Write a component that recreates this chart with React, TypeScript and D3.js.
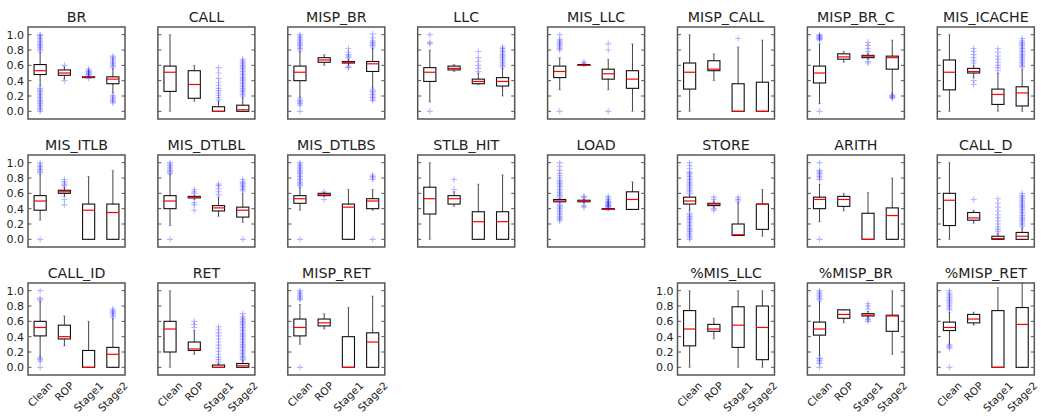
import React from "react";
import * as d3 from "d3";

type Stat = [number, number, number, number, number]; // lo, q1, med, q3, hi

const categories = ["Clean", "ROP", "Stage1", "Stage2"];
const yTicks = [0, 0.2, 0.4, 0.6, 0.8, 1.0];

// ---------- Row 1 ----------
const statsBR: Stat[] = [[0.33, 0.48, 0.53, 0.61, 0.77], [0.42, 0.47, 0.5, 0.54, 0.58], [0.44, 0.44, 0.445, 0.45, 0.46], [0.24, 0.36, 0.42, 0.45, 0.56]];
const fliersBR: number[][] = [
  [0.79, 0.81, 0.83, 0.85, 0.87, 0.89, 0.91, 0.93, 0.95, 0.97, 0.99, 1.0, 0.0, 0.02, 0.04, 0.06, 0.08, 0.1, 0.12, 0.14, 0.16, 0.18, 0.2, 0.22, 0.24, 0.26, 0.28, 0.3],
  [0.4, 0.6],
  [0.47, 0.48, 0.49, 0.5, 0.51, 0.52, 0.53, 0.55, 0.43],
  [0.58, 0.6, 0.62, 0.64, 0.66, 0.68, 0.7, 0.72, 0.11, 0.13, 0.15, 0.17, 0.19, 0.21],
];
const statsCALL: Stat[] = [[0, 0.26, 0.51, 0.59, 1.0], [0.13, 0.17, 0.35, 0.53, 0.6], [0, 0, 0, 0.06, 0.13], [0, 0, 0.02, 0.08, 0.18]];
const fliersCALL: number[][] = [
  [], [],
  [0.15, 0.18, 0.21, 0.24, 0.27, 0.3, 0.34, 0.38, 0.43, 0.5, 0.57],
  [0.2, 0.22, 0.24, 0.26, 0.28, 0.3, 0.32, 0.34, 0.36, 0.38, 0.4, 0.42, 0.44, 0.46, 0.48, 0.5, 0.52, 0.54, 0.56, 0.58, 0.6, 0.62, 0.64, 0.66, 0.68],
];
const statsMISP_BR: Stat[] = [[0.18, 0.4, 0.51, 0.59, 0.78], [0.6, 0.64, 0.67, 0.7, 0.74], [0.6, 0.63, 0.64, 0.65, 0.68], [0.3, 0.52, 0.62, 0.65, 0.82]];
const fliersMISP_BR: number[][] = [
  [0.8, 0.82, 0.84, 0.86, 0.88, 0.9, 0.92, 0.94, 0.96, 0.98, 1.0, 0.08, 0.1, 0.12, 0.14, 0.16, 0.0],
  [],
  [0.57, 0.58, 0.7, 0.72, 0.74, 0.77, 0.82],
  [0.84, 0.86, 0.88, 0.9, 0.92, 0.96, 1.01, 0.14, 0.16, 0.18, 0.2, 0.22, 0.24, 0.26, 0.28],
];
const statsLLC: Stat[] = [[0.12, 0.39, 0.51, 0.57, 0.8], [0.52, 0.54, 0.56, 0.59, 0.61], [0.35, 0.36, 0.39, 0.42, 0.5], [0.2, 0.33, 0.39, 0.44, 0.56]];
const fliersLLC: number[][] = [
  [0.88, 0.9, 1.0, 0.0],
  [],
  [0.52, 0.56, 0.6, 0.65, 0.7, 0.78],
  [0.58, 0.6, 0.62, 0.64, 0.66, 0.68, 0.7, 0.72, 0.74, 0.76, 0.78, 0.8, 0.82, 0.84],
];
const statsMIS_LLC: Stat[] = [[0.28, 0.44, 0.52, 0.59, 0.7], [0.59, 0.6, 0.6, 0.61, 0.62], [0.28, 0.42, 0.49, 0.55, 0.68], [0, 0.3, 0.42, 0.53, 0.88]];
const fliersMIS_LLC: number[][] = [
  [0.8, 0.82, 0.84, 0.86, 0.88, 0.9, 0.92, 0.94, 1.0, 0.0],
  [0.63, 0.64],
  [0.8, 0.88, 0.0],
  [],
];
const statsMISP_CALL: Stat[] = [[0, 0.29, 0.51, 0.63, 1.0], [0.4, 0.53, 0.55, 0.66, 0.75], [0, 0, 0, 0.36, 0.84], [0, 0, 0, 0.38, 0.93]];
const fliersMISP_CALL: number[][] = [[], [], [0.95], []];
const statsMISP_BR_C: Stat[] = [[0.1, 0.37, 0.5, 0.59, 0.88], [0.64, 0.68, 0.71, 0.75, 0.78], [0.68, 0.7, 0.72, 0.73, 0.76], [0.22, 0.55, 0.7, 0.72, 0.93]];
const fliersMISP_BR_C: number[][] = [
  [0.93, 0.94, 0.95, 0.96, 0.97, 0.98, 0.99, 1.0, 0.0],
  [],
  [0.63, 0.65, 0.78, 0.82, 0.86, 0.9],
  [0.17, 0.18, 0.19, 0.2, 0.21],
];
const statsMIS_ICACHE: Stat[] = [[0, 0.28, 0.51, 0.67, 1.0], [0.44, 0.5, 0.52, 0.56, 0.6], [0, 0.09, 0.22, 0.29, 0.5], [0, 0.07, 0.24, 0.32, 0.55]];
const fliersMIS_ICACHE: number[][] = [
  [],
  [0.63, 0.66, 0.7, 0.74, 0.78, 0.82, 0.4, 0.35],
  [0.53, 0.57, 0.6, 0.64, 0.68, 0.72, 0.77, 0.82],
  [0.58, 0.6, 0.62, 0.64, 0.66, 0.68, 0.7, 0.72, 0.74, 0.76, 0.78, 0.8, 0.82, 0.84, 0.86, 0.88, 0.9, 0.92, 0.95],
];

// ---------- Row 2 ----------
const statsMIS_ITLB: Stat[] = [[0.25, 0.38, 0.5, 0.57, 0.85], [0.56, 0.6, 0.62, 0.64, 0.68], [0, 0, 0.38, 0.46, 0.82], [0, 0, 0.35, 0.46, 0.9]];
const fliersMIS_ITLB: number[][] = [
  [0.87, 0.89, 0.91, 0.93, 0.95, 0.97, 1.0, 0.0],
  [0.7, 0.72, 0.75, 0.78, 0.45, 0.52],
  [], [],
];
const statsMIS_DTLBL: Stat[] = [[0.18, 0.4, 0.5, 0.57, 0.85], [0.52, 0.54, 0.55, 0.56, 0.57], [0.3, 0.37, 0.41, 0.44, 0.55], [0.22, 0.29, 0.38, 0.42, 0.6]];
const fliersMIS_DTLBL: number[][] = [
  [0.86, 0.88, 0.9, 0.92, 0.94, 0.96, 0.98, 1.0, 0.0],
  [0.38, 0.45, 0.48, 0.6, 0.62, 0.65],
  [0.58, 0.62, 0.66, 0.7, 0.72],
  [0.63, 0.65, 0.67, 0.69, 0.71, 0.73, 0.75, 0.78, 0.0],
];
const statsMIS_DTLBS: Stat[] = [[0.38, 0.47, 0.53, 0.57, 0.68], [0.56, 0.57, 0.58, 0.6, 0.61], [0, 0, 0.42, 0.46, 0.65], [0.38, 0.4, 0.5, 0.53, 0.65]];
const fliersMIS_DTLBS: number[][] = [
  [0.7, 0.72, 0.74, 0.76, 0.78, 0.8, 0.82, 0.84, 0.86, 0.88, 0.9, 0.92, 0.94, 0.96, 0.98, 1.0, 0.0],
  [0.52, 0.62],
  [],
  [0.78, 0.8, 0.82, 0.84, 0.0],
];
const statsSTLB_HIT: Stat[] = [[0, 0.33, 0.53, 0.68, 1.0], [0.43, 0.46, 0.53, 0.57, 0.62], [0, 0, 0.23, 0.36, 0.72], [0, 0, 0.23, 0.36, 0.84]];
const fliersSTLB_HIT: number[][] = [[], [0.65, 0.78], [], []];
const statsLOAD: Stat[] = [[0.48, 0.49, 0.5, 0.52, 0.53], [0.47, 0.49, 0.5, 0.51, 0.53], [0.38, 0.39, 0.39, 0.4, 0.41], [0.39, 0.39, 0.52, 0.62, 0.75]];
const fliersLOAD: number[][] = [
  [0.24, 0.26, 0.28, 0.3, 0.32, 0.34, 0.36, 0.38, 0.4, 0.42, 0.44, 0.46, 0.55, 0.57, 0.59, 0.61, 0.63, 0.65, 0.67, 0.69, 0.71, 0.73, 0.75, 0.77, 0.8, 0.83, 0.86, 0.9, 0.95, 1.0],
  [0.42, 0.44, 0.55, 0.56],
  [0.42, 0.43, 0.44, 0.45, 0.46, 0.47, 0.48, 0.49, 0.5, 0.52, 0.54, 0.56],
  [],
];
const statsSTORE: Stat[] = [[0.37, 0.46, 0.5, 0.55, 0.58], [0.42, 0.44, 0.46, 0.47, 0.5], [0.05, 0.05, 0.06, 0.2, 0.48], [0.04, 0.13, 0.46, 0.46, 0.65]];
const fliersSTORE: number[][] = [
  [0.6, 0.62, 0.64, 0.66, 0.68, 0.7, 0.72, 0.74, 0.76, 0.78, 0.8, 0.82, 0.84, 0.86, 0.88, 0.92, 0.96, 1.0,
   0.0, 0.02, 0.04, 0.06, 0.08, 0.1, 0.12, 0.14, 0.16, 0.18, 0.2, 0.22, 0.24, 0.26, 0.28, 0.3, 0.32, 0.34],
  [0.38, 0.4, 0.52, 0.55],
  [0.5, 0.52, 0.55],
  [],
];
const statsARITH: Stat[] = [[0.23, 0.4, 0.52, 0.55, 0.72], [0.37, 0.43, 0.52, 0.56, 0.6], [0, 0, 0, 0.34, 0.61], [0, 0, 0.31, 0.41, 0.8]];
const fliersARITH: number[][] = [
  [0.78, 0.8, 0.82, 0.84, 0.86, 0.88, 0.9, 1.0, 0.0],
  [], [], [],
];
const statsCALL_D: Stat[] = [[0, 0.18, 0.51, 0.6, 1.0], [0.21, 0.25, 0.28, 0.35, 0.38], [0, 0, 0.01, 0.04, 0.08], [0, 0, 0.04, 0.09, 0.15]];
const fliersCALL_D: number[][] = [
  [],
  [0.52],
  [0.1, 0.13, 0.16, 0.2, 0.24, 0.28, 0.32, 0.37, 0.42, 0.47, 0.53],
  [0.17, 0.19, 0.21, 0.23, 0.25, 0.27, 0.29, 0.31, 0.33, 0.35, 0.37, 0.39, 0.41, 0.43, 0.45, 0.47, 0.49, 0.51, 0.53, 0.55, 0.57, 0.6],
];

// ---------- Row 3 ----------
const statsCALL_ID: Stat[] = [[0.13, 0.41, 0.52, 0.6, 0.86], [0.28, 0.37, 0.4, 0.55, 0.67], [0, 0, 0, 0.22, 0.6], [0, 0, 0.17, 0.26, 0.64]];
const fliersCALL_ID: number[][] = [
  [0.88, 0.9, 1.0, 0.08, 0.1, 0.12, 0.0],
  [], [],
  [0.66, 0.68, 0.7, 0.72, 0.74, 0.76],
];
const statsRET: Stat[] = [[0, 0.2, 0.5, 0.6, 1.0], [0.17, 0.22, 0.24, 0.33, 0.48], [0, 0, 0, 0.03, 0.05], [0, 0, 0.02, 0.05, 0.09]];
const fliersRET: number[][] = [
  [],
  [0.52, 0.56, 0.6],
  [0.07, 0.1, 0.13, 0.17, 0.21, 0.25, 0.29, 0.33, 0.37, 0.41, 0.45, 0.49, 0.53],
  [0.1, 0.12, 0.14, 0.16, 0.18, 0.2, 0.22, 0.24, 0.26, 0.28, 0.3, 0.32, 0.34, 0.36, 0.38, 0.4, 0.42, 0.44, 0.46, 0.48, 0.5, 0.52, 0.54, 0.56, 0.58, 0.6, 0.62, 0.64, 0.66, 0.7],
];
const statsMISP_RET: Stat[] = [[0.3, 0.41, 0.52, 0.63, 0.82], [0.5, 0.54, 0.58, 0.63, 0.7], [0, 0, 0, 0.4, 0.78], [0, 0, 0.33, 0.45, 0.93]];
const fliersMISP_RET: number[][] = [
  [0.88, 0.9, 0.92, 0.94, 0.96, 0.98, 1.0, 0.0],
  [], [], [],
];
const statsPMIS_LLC: Stat[] = [[0, 0.28, 0.5, 0.74, 1.0], [0.37, 0.47, 0.5, 0.56, 0.64], [0, 0.26, 0.55, 0.79, 1.0], [0, 0.1, 0.52, 0.8, 1.0]];
const fliersPMIS_LLC: number[][] = [[], [], [], []];
const statsPMISP_BR: Stat[] = [[0.15, 0.42, 0.5, 0.59, 0.86], [0.58, 0.64, 0.69, 0.75, 0.75], [0.64, 0.67, 0.68, 0.7, 0.73], [0.17, 0.47, 0.67, 0.68, 1.0]];
const fliersPMISP_BR: number[][] = [
  [0.88, 0.9, 0.92, 0.94, 0.96, 0.98, 1.0, 0.05, 0.07, 0.09, 0.11, 0.12, 0.0],
  [],
  [0.6, 0.62, 0.63, 0.76, 0.8, 0.83],
  [],
];
const statsPMISP_RET: Stat[] = [[0.3, 0.48, 0.52, 0.59, 0.72], [0.55, 0.58, 0.63, 0.69, 0.72], [0, 0, 0, 0.74, 1.04], [0, 0, 0.56, 0.78, 1.1]];
const fliersPMISP_RET: number[][] = [
  [0.75, 0.77, 0.79, 0.81, 0.83, 0.85, 0.87, 0.89, 0.91, 0.93, 0.95, 0.97, 1.0, 0.25, 0.27, 0.29, 0.0],
  [], [], [],
];

// panel list: title, grid row, grid column, data
const panels: { title: string; row: number; col: number; stats: Stat[]; fliers: number[][] }[] = [
  { title: "BR", row: 0, col: 0, stats: statsBR, fliers: fliersBR },
  { title: "CALL", row: 0, col: 1, stats: statsCALL, fliers: fliersCALL },
  { title: "MISP_BR", row: 0, col: 2, stats: statsMISP_BR, fliers: fliersMISP_BR },
  { title: "LLC", row: 0, col: 3, stats: statsLLC, fliers: fliersLLC },
  { title: "MIS_LLC", row: 0, col: 4, stats: statsMIS_LLC, fliers: fliersMIS_LLC },
  { title: "MISP_CALL", row: 0, col: 5, stats: statsMISP_CALL, fliers: fliersMISP_CALL },
  { title: "MISP_BR_C", row: 0, col: 6, stats: statsMISP_BR_C, fliers: fliersMISP_BR_C },
  { title: "MIS_ICACHE", row: 0, col: 7, stats: statsMIS_ICACHE, fliers: fliersMIS_ICACHE },
  { title: "MIS_ITLB", row: 1, col: 0, stats: statsMIS_ITLB, fliers: fliersMIS_ITLB },
  { title: "MIS_DTLBL", row: 1, col: 1, stats: statsMIS_DTLBL, fliers: fliersMIS_DTLBL },
  { title: "MIS_DTLBS", row: 1, col: 2, stats: statsMIS_DTLBS, fliers: fliersMIS_DTLBS },
  { title: "STLB_HIT", row: 1, col: 3, stats: statsSTLB_HIT, fliers: fliersSTLB_HIT },
  { title: "LOAD", row: 1, col: 4, stats: statsLOAD, fliers: fliersLOAD },
  { title: "STORE", row: 1, col: 5, stats: statsSTORE, fliers: fliersSTORE },
  { title: "ARITH", row: 1, col: 6, stats: statsARITH, fliers: fliersARITH },
  { title: "CALL_D", row: 1, col: 7, stats: statsCALL_D, fliers: fliersCALL_D },
  { title: "CALL_ID", row: 2, col: 0, stats: statsCALL_ID, fliers: fliersCALL_ID },
  { title: "RET", row: 2, col: 1, stats: statsRET, fliers: fliersRET },
  { title: "MISP_RET", row: 2, col: 2, stats: statsMISP_RET, fliers: fliersMISP_RET },
  { title: "%MIS_LLC", row: 2, col: 5, stats: statsPMIS_LLC, fliers: fliersPMIS_LLC },
  { title: "%MISP_BR", row: 2, col: 6, stats: statsPMISP_BR, fliers: fliersPMISP_BR },
  { title: "%MISP_RET", row: 2, col: 7, stats: statsPMISP_RET, fliers: fliersPMISP_RET },
];

const W = 1041, H = 419;
const LEFT0 = 28, COLSTEP = 129.9, PW = 97;
const TOP0 = 27, ROWSTEP = 128, PH = 92;
const FONT = "DejaVu Sans, sans-serif";
const FRAME = "#555";
const FLIER = "#2020ff";

let _ctx: CanvasRenderingContext2D | null = null;
function textWidth(s: string, size: number) {
  if (!_ctx) _ctx = document.createElement("canvas").getContext("2d");
  if (!_ctx) return s.length * size * 0.6;
  _ctx.font = `${size}px DejaVu Sans`;
  return _ctx.measureText(s).width;
}

function Panel({ p }: { p: (typeof panels)[number] }) {
  const x0 = LEFT0 + p.col * COLSTEP;
  const y0 = TOP0 + p.row * ROWSTEP;
  const x = d3.scaleLinear().domain([0.5, 4.5]).range([0, PW]);
  const y = d3.scaleLinear().domain([-0.1, 1.1]).range([PH, 0]);
  const bw = x(1.25) - x(1);
  const cw = x(1.12) - x(1);
  const showY = p.col === 0 || p.title === "%MIS_LLC";
  const showX = p.row === 2;
  const xs = 10.5, ys = 11;
  const m = 3;
  return (
    <g transform={`translate(${x0},${y0})`}>
      <text x={PW / 2} y={-5} textAnchor="middle" fontSize={14.2} fill="#222" fontFamily={FONT}>{p.title}</text>
      {p.stats.map((s, i) => {
        const cx = x(i + 1);
        const [lo, q1, med, q3, hi] = s;
        return (
          <g key={i}>
            <line x1={cx} x2={cx} y1={y(q3)} y2={y(hi)} stroke="#444" strokeWidth={1} />
            <line x1={cx} x2={cx} y1={y(q1)} y2={y(lo)} stroke="#444" strokeWidth={1} />
            <line x1={cx - cw / 2} x2={cx + cw / 2} y1={y(hi)} y2={y(hi)} stroke={FLIER} strokeOpacity={0.35} />
            <line x1={cx - cw / 2} x2={cx + cw / 2} y1={y(lo)} y2={y(lo)} stroke={FLIER} strokeOpacity={0.35} />
            <rect x={cx - bw} y={y(q3)} width={2 * bw} height={Math.max(y(q1) - y(q3), 0.5)} fill="none" stroke="#111" strokeWidth={1.1} />
            <line x1={cx - bw} x2={cx + bw} y1={y(med)} y2={y(med)} stroke="#f00" strokeWidth={1.2} />
            {p.fliers[i].map((f, j) => (
              <path key={j} d={`M${cx - m},${y(f)}h${2 * m}M${cx},${y(f) - m}v${2 * m}`} stroke={FLIER} strokeOpacity={0.32} strokeWidth={1.1} fill="none" />
            ))}
          </g>
        );
      })}
      {yTicks.map((t) => (
        <g key={t}>
          <line x1={0} x2={3.5} y1={y(t)} y2={y(t)} stroke={FRAME} strokeWidth={1} />
          <line x1={PW - 3.5} x2={PW} y1={y(t)} y2={y(t)} stroke={FRAME} strokeWidth={1} />
          {showY && (
            <text x={-4} y={y(t)} dy="0.35em" textAnchor="end" fontSize={ys} fill="#222" fontFamily={FONT}>{t.toFixed(1)}</text>
          )}
        </g>
      ))}
      <rect x={0} y={0} width={PW} height={PH} fill="none" stroke={FRAME} strokeWidth={1.5} />
      {showX && categories.map((c, i) => {
        const w = textWidth(c, xs);
        const hgt = xs * 1.0;
        const half = (w + hgt) / (2 * Math.SQRT2);
        const cx = x(i + 1);
        const cy = PH + 5 + half;
        return (
          <text key={c} transform={`translate(${cx},${cy}) rotate(-45)`} textAnchor="middle" dy="0.35em" fontSize={xs} fill="#222" fontFamily={FONT}>{c}</text>
        );
      })}
    </g>
  );
}

export default function App() {
  return (
    <svg width={W} height={H} style={{ position: "absolute", left: 0, top: 0, background: "#fff" }}>
      <rect width={W} height={H} fill="#fff" />
      {panels.map((p) => <Panel key={p.title} p={p} />)}
    </svg>
  );
}
